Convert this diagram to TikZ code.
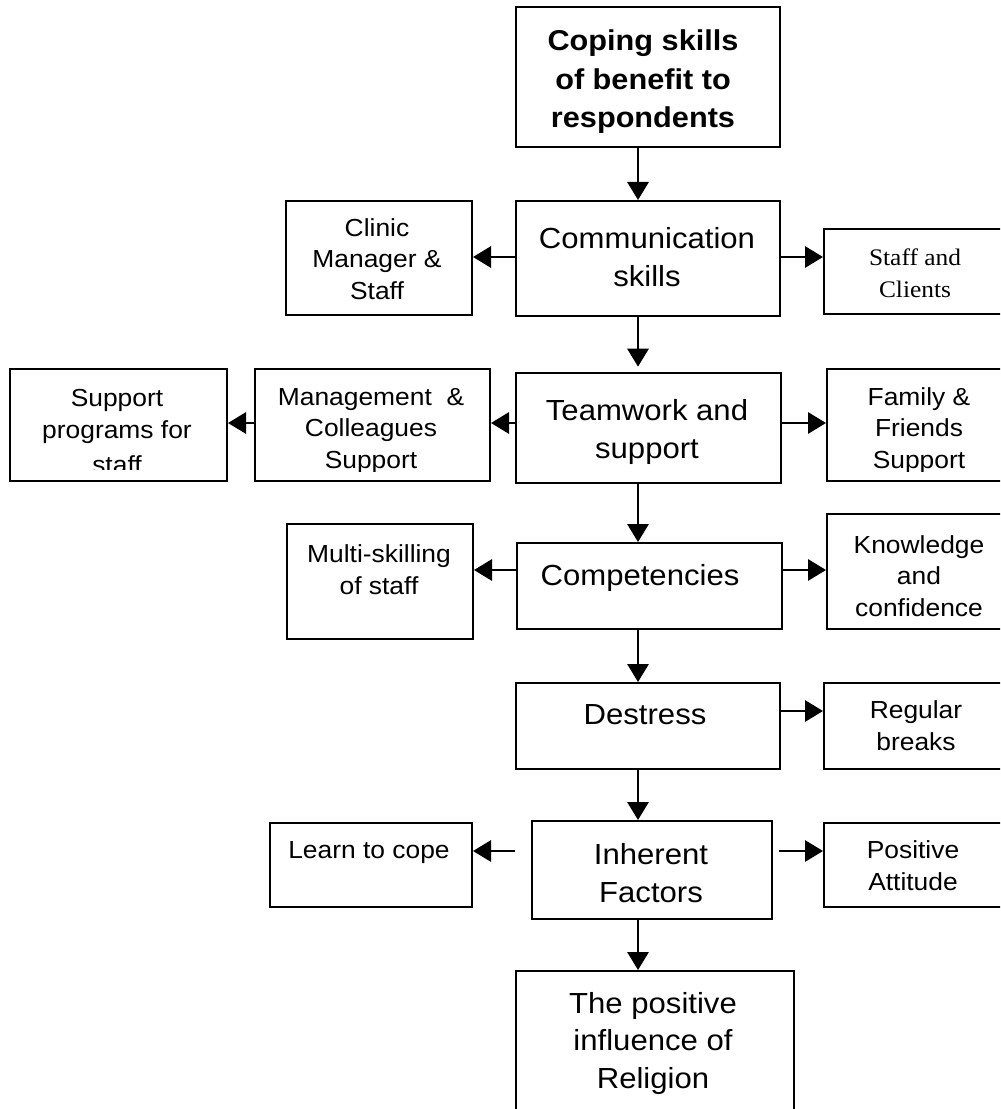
\documentclass[tikz,border=0pt]{standalone}
\usepackage{fontspec}
\setmainfont{Liberation Sans}[FakeStretch=1.07]
\newfontfamily\serifx{Liberation Serif}[FakeStretch=1.07]
\usetikzlibrary{arrows.meta,fit}
\begin{document}
\begin{tikzpicture}[x=0.75pt,y=-0.75pt,
  box/.style={draw, line width=1.5pt, inner sep=0pt},
  lbl/.style={align=center, inner sep=0pt, anchor=base},
  side/.style={lbl, font=\fontsize{18.5}{23.6}\selectfont},
  mid/.style={lbl, font=\fontsize{21.8}{28.1}\selectfont},
  head/.style={lbl, font=\fontsize{21.5}{29.2}\selectfont\bfseries},
  arr/.style={line width=1.5pt, -{Triangle[length=13.5pt,width=16pt]}}]
\useasboundingbox (0,0) rectangle (1000,1109);
\clip (0,0) rectangle (1000,1109);
% boxes
\node[box, fit={(516,7) (780,147)}] (top) {};
\node[box, fit={(516,201) (780,316)}] (comm) {};
\node[box, fit={(286,201) (472,315)}] (clin) {};
\node[box, fit={(824,229) (1008,314)}] (stcl) {};
\node[box, fit={(10,369) (227,481)}] (supp) {};
\node[box, fit={(255,369) (490,481)}] (mgmt) {};
\node[box, fit={(516,373) (781,483)}] (team) {};
\node[box, fit={(827,369) (1008,481)}] (fam) {};
\node[box, fit={(287,524) (473,639)}] (multi) {};
\node[box, fit={(517,543) (782,629)}] (comp) {};
\node[box, fit={(827,514) (1008,629)}] (know) {};
\node[box, fit={(516,683) (780,769)}] (dest) {};
\node[box, fit={(824,683) (1008,769)}] (reg) {};
\node[box, fit={(270,823) (472,907)}] (learn) {};
\node[box, fit={(532,821) (772,919)}] (inh) {};
\node[box, fit={(824,823) (1008,907)}] (pos) {};
\node[box, fit={(516,971) (794,1125)}] (rel) {};
% labels (anchored at the baseline of the last line)
\node[head] (tTop) at (643,128) {Coping skills\\of benefit to\\respondents};
\node[mid] (tComm) at (647,286) {Communication\\skills};
\node[side] (tClin) at (377,299) {Clinic\\Manager \&\\Staff};
\node[side, font=\serifx\fontsize{17.8}{23.8}\selectfont] (tStcl) at (915,297) {Staff and\\Clients};
\begin{scope}
  \clip (0,360) rectangle (240,469);
  \node[side] (tSupp) at (117,473) {Support\\programs for\\[2.5pt]staff};
\end{scope}
\begin{scope}
  \clip (240,360) rectangle (1000,471);
  \node[side] (tMgmt) at (371,468) {Management~ \&\\Colleagues\\Support};
  \node[side] (tFam) at (919,468) {Family \&\\Friends\\Support};
\end{scope}
\node[mid] (tTeam) at (647,458) {Teamwork and\\support};
\node[side] (tMulti) at (379,594) {Multi-skilling\\of staff};
\node[mid] (tComp) at (640,585) {Competencies};
\node[side] (tKnow) at (919,616) {Knowledge\\and\\confidence};
\node[mid] (tDest) at (645,724) {Destress};
\node[side] (tReg) at (916,750) {Regular\\breaks};
\node[side] (tLearn) at (369,858) {Learn to cope};
\node[mid] (tInh) at (651,902) {Inherent\\Factors};
\node[side] (tPos) at (913,890) {Positive\\Attitude};
\node[mid] (tRel) at (653,1088) {The positive\\influence of\\Religion};
% helper coordinates
\coordinate (ax) at (638,0);
\coordinate (r1) at (0,257);
\coordinate (r2) at (0,423);
\coordinate (r3) at (0,570);
\coordinate (r4) at (0,711);
\coordinate (r5) at (0,851);
% connectors
\draw[arr] (top.south -| ax) -- (comm.north -| ax);
\draw[arr] (comm.west |- r1) -- (clin.east |- r1);
\draw[arr] (comm.east |- r1) -- (stcl.west |- r1);
\draw[arr] (comm.south -| ax) -- ([yshift=4pt]team.north -| ax);
\draw[arr] (team.west |- r2) -- (mgmt.east |- r2);
\draw[arr] (mgmt.west |- r2) -- (supp.east |- r2);
\draw[arr] (team.east |- r2) -- (fam.west |- r2);
\draw[arr] (team.south -| ax) -- (comp.north -| ax);
\draw[arr] (comp.west |- r3) -- (multi.east |- r3);
\draw[arr] (comp.east |- r3) -- (know.west |- r3);
\draw[arr] (comp.south -| ax) -- (dest.north -| ax);
\draw[arr] (dest.east |- r4) -- (reg.west |- r4);
\draw[arr] (dest.south -| ax) -- (inh.north -| ax);
\draw[arr] ([xshift=-12pt]inh.west |- r5) -- (learn.east |- r5);
\draw[arr] ([xshift=4.5pt]inh.east |- r5) -- (pos.west |- r5);
\draw[arr] (inh.south -| ax) -- (rel.north -| ax);
\end{tikzpicture}
\end{document}
